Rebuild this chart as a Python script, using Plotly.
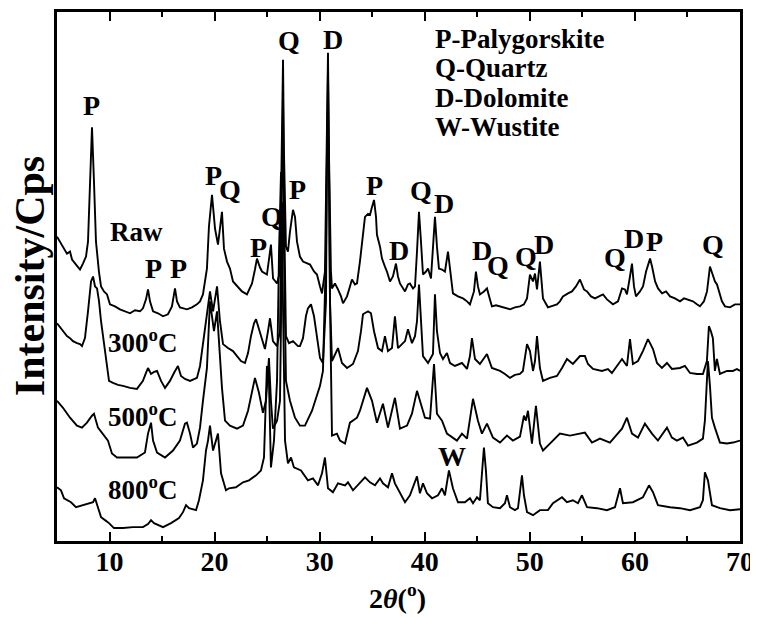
import plotly.graph_objects as go

# ---------------- data (2theta in degrees, intensity in arbitrary counts, stacked) --------------
raw_x = [5.00, 5.29, 5.57, 5.95, 6.24, 6.43, 6.81, 7.19, 7.47, 7.76, 7.95, 8.14, 8.33, 8.52, 8.71, 8.99,
         9.19, 9.47, 9.76, 10.04, 10.52, 10.99, 11.47, 11.95, 12.42, 12.90, 13.18, 13.47, 13.66, 13.85,
         14.14, 14.61, 15.09, 15.56, 15.94, 16.23, 16.42, 16.70, 17.37, 17.85, 18.32, 18.61, 18.89,
         19.27, 19.46, 19.75, 20.04, 20.32, 20.70, 20.89, 21.18, 21.46, 21.75, 22.22, 22.60, 23.08,
         23.56, 23.84, 24.03, 24.32, 24.51, 24.98, 25.17, 25.36, 25.56, 25.94, 26.22, 26.41, 26.51,
         26.60, 26.79, 26.98, 27.17, 27.46, 27.65, 27.84, 28.12, 28.41, 28.79, 29.08, 29.46, 29.74,
         30.03, 30.22, 30.50, 30.69, 30.79, 30.88, 31.07, 31.17, 31.45, 31.74, 32.03, 32.22, 32.60,
         32.88, 33.07, 33.36, 33.55, 33.83, 34.02, 34.31, 34.60, 34.79, 34.98, 35.17, 35.36, 35.45,
         35.74, 35.93, 36.21, 36.40, 36.69, 36.97, 37.26, 37.45, 37.64, 38.12, 38.40, 38.59, 38.88,
         39.07, 39.26, 39.45, 39.64, 39.83, 40.12, 40.31, 40.59, 40.78, 40.97, 41.16, 41.35, 41.64,
         41.92, 42.21, 42.40, 42.68, 43.16, 43.64, 44.02, 44.30, 44.68, 44.87, 45.06, 45.25, 45.63,
         45.92, 46.20, 46.39, 46.78, 47.16, 47.63, 48.11, 48.58, 49.06, 49.44, 49.73, 50.01, 50.30,
         50.49, 50.68, 50.96, 51.25, 51.72, 52.10, 52.58, 52.86, 53.15, 53.63, 54.01, 54.39, 54.77,
         55.15, 55.44, 55.82, 56.20, 56.58, 56.96, 57.34, 57.91, 58.39, 58.77, 59.05, 59.24, 59.53,
         59.72, 59.91, 60.10, 60.48, 60.77, 61.06, 61.25, 61.44, 61.63, 61.92, 62.20, 62.58, 62.96,
         63.34, 63.81, 64.29, 64.67, 65.05, 65.52, 65.90, 66.19, 66.57, 66.86, 67.14, 67.43, 67.62,
         67.81, 68.00, 68.28, 68.57, 69.05, 69.52, 70.00]
raw_y = [306, 301, 296, 289, 291, 283, 278, 273, 279, 286, 301, 351, 416, 361, 301, 271,
         256, 251, 248, 238, 236, 233, 231, 229, 232, 231, 234, 243, 253, 241,
         231, 229, 226, 228, 236, 254, 241, 235, 233, 235, 238, 241, 248,
         274, 316, 348, 314, 298, 331, 294, 281, 274, 261, 256, 251, 248,
         259, 273, 284, 275, 271, 268, 286, 298, 264, 259, 271, 391, 484,
         391, 296, 291, 311, 333, 326, 301, 286, 281, 279, 278, 271, 268,
         256, 249, 271, 391, 491, 391, 271, 254, 259, 253, 246, 239, 246,
         256, 263, 258, 259, 281, 301, 326, 329, 328, 336, 343, 326, 308,
         296, 284, 276, 271, 261, 266, 279, 266, 259, 251, 258, 259, 254,
         256, 291, 331, 301, 268, 271, 274, 264, 291, 326, 296, 274, 273,
         271, 291, 276, 249, 246, 244, 241, 238, 251, 271, 256, 248, 251,
         254, 243, 236, 237, 236, 234, 233, 235, 236, 238, 244, 268, 261,
         269, 253, 281, 244, 235, 236, 238, 241, 246, 249, 251, 256, 263,
         253, 251, 246, 244, 246, 248, 243, 238, 241, 254, 253, 248, 266,
         279, 256, 246, 251, 256, 271, 279, 284, 276, 261, 254, 249, 251,
         246, 244, 241, 244, 243, 241, 238, 236, 241, 251, 276, 266, 261,
         258, 251, 241, 236, 235, 238, 238]

t300_x = [5.00, 5.29, 5.57, 5.95, 6.24, 6.52, 6.90, 7.19, 7.38, 7.66, 7.95, 8.24, 8.43, 8.62, 8.81,
          9.00, 9.19, 9.38, 9.57, 9.76, 9.95, 10.33, 10.80, 11.28, 11.95, 12.61, 13.18, 13.47, 13.66,
          13.95, 14.23, 14.52, 14.90, 15.28, 15.75, 16.13, 16.51, 16.80, 17.18, 17.66, 18.32, 18.61,
          18.80, 19.08, 19.37, 19.56, 19.85, 20.23, 20.51, 20.80, 21.27, 21.75, 22.13, 22.51, 22.89,
          23.18, 23.46, 23.75, 23.94, 24.22, 24.51, 24.79, 25.08, 25.27, 25.55, 25.94, 26.22, 26.41,
          26.51, 26.60, 26.79, 27.08, 27.46, 27.93, 28.12, 28.41, 28.69, 28.88, 29.17, 29.46, 29.74,
          30.03, 30.31, 30.60, 30.69, 30.79, 30.88, 30.98, 31.17, 31.45, 31.74, 32.12, 32.60, 33.17,
          33.64, 33.93, 34.12, 34.60, 34.88, 35.17, 35.55, 35.93, 36.21, 36.50, 36.88, 37.16, 37.45,
          37.83, 38.12, 38.40, 38.78, 39.07, 39.26, 39.45, 39.64, 39.83, 40.31, 40.78, 40.97, 41.16,
          41.45, 41.73, 42.11, 42.40, 42.87, 43.54, 44.02, 44.30, 44.49, 44.78, 45.25, 45.92, 46.39,
          47.16, 47.63, 48.11, 48.58, 49.06, 49.34, 49.53, 49.73, 50.01, 50.30, 50.49, 50.68, 50.96,
          51.25, 51.91, 52.58, 53.06, 53.53, 54.10, 54.48, 54.77, 55.24, 55.53, 56.01, 56.86, 57.43,
          57.81, 58.29, 58.77, 59.24, 59.53, 59.81, 60.29, 60.76, 61.24, 61.72, 62.10, 62.57, 63.05,
          63.52, 64.28, 64.76, 65.24, 65.90, 66.47, 66.85, 67.04, 67.23, 67.42, 67.61, 67.80, 68.09,
          68.76, 69.33, 69.71, 70.00]
t300_y = [219, 215, 211, 206, 204, 201, 199, 198, 196, 204, 231, 261, 266, 256, 254,
          241, 221, 206, 196, 176, 161, 159, 157, 156, 154, 153, 161, 169, 174,
          168, 170, 171, 161, 154, 161, 169, 176, 166, 163, 161, 164, 176,
          191, 211, 236, 251, 231, 256, 221, 198, 194, 191, 186, 181, 179,
          189, 206, 219, 223, 213, 204, 193, 211, 224, 201, 196, 211, 341,
          441, 341, 206, 199, 201, 196, 196, 204, 226, 234, 238, 226, 206,
          184, 179, 241, 391, 471, 391, 241, 181, 188, 194, 179, 174, 178,
          191, 211, 228, 231, 229, 211, 194, 191, 206, 191, 194, 226, 194,
          198, 201, 213, 199, 206, 221, 258, 221, 186, 179, 188, 248, 211,
          189, 183, 189, 179, 176, 179, 173, 186, 204, 183, 178, 188, 174,
          171, 168, 164, 167, 168, 171, 183, 198, 191, 171, 181, 206, 174,
          161, 164, 166, 174, 183, 178, 183, 186, 186, 178, 173, 171, 173,
          169, 176, 183, 176, 203, 178, 181, 191, 203, 193, 179, 174, 179,
          173, 174, 176, 169, 168, 168, 181, 216, 211, 204, 171, 183, 168,
          171, 171, 173, 171]

t500_x = [5.00, 5.57, 6.24, 6.90, 7.38, 7.85, 8.33, 8.52, 8.90, 9.38, 9.85, 10.23, 10.71, 11.66,
          12.61, 13.37, 13.66, 13.95, 14.14, 14.52, 15.28, 16.04, 16.70, 17.18, 17.37, 17.66, 17.94,
          18.32, 18.61, 18.89, 19.27, 19.56, 19.94, 20.23, 20.51, 20.70, 20.99, 21.46, 22.13, 22.70,
          23.18, 23.56, 23.84, 24.22, 24.60, 24.89, 25.17, 25.36, 25.55, 25.94, 26.22, 26.41, 26.51,
          26.60, 26.79, 27.17, 27.65, 28.12, 28.60, 29.27, 29.74, 30.03, 30.31, 30.60, 30.69, 30.79,
          30.88, 30.98, 31.17, 31.64, 31.93, 32.41, 32.88, 33.55, 33.83, 34.12, 34.50, 34.98, 35.45,
          36.02, 36.50, 37.16, 37.64, 38.31, 38.78, 39.26, 39.54, 40.02, 40.50, 40.88, 41.16, 41.64,
          42.11, 42.59, 43.06, 43.54, 44.02, 44.59, 45.06, 45.44, 45.92, 46.49, 47.16, 47.82, 48.39,
          49.06, 49.44, 49.63, 49.82, 50.20, 50.58, 50.96, 51.25, 51.91, 52.86, 53.82, 54.77, 55.24,
          55.91, 56.67, 57.62, 58.39, 58.77, 59.24, 59.72, 60.29, 60.95, 61.62, 62.19, 63.05, 63.52,
          64.00, 64.57, 65.05, 65.90, 66.47, 66.66, 66.85, 66.95, 67.14, 67.33, 67.61, 68.09, 68.76,
          69.33, 70.00]
t500_y = [141, 134, 124, 116, 114, 119, 126, 128, 114, 108, 101, 88, 84, 84,
          84, 89, 108, 119, 101, 89, 84, 91, 101, 118, 119, 108, 94,
          98, 114, 141, 174, 241, 211, 231, 181, 154, 121, 116, 113, 116,
          131, 151, 164, 149, 129, 141, 184, 141, 113, 121, 141, 291, 341,
          291, 161, 141, 124, 116, 116, 131, 146, 156, 171, 291, 381, 411,
          381, 241, 106, 108, 101, 98, 119, 124, 131, 141, 154, 141, 119,
          138, 114, 144, 113, 116, 128, 151, 141, 124, 123, 178, 128, 121,
          108, 104, 101, 108, 103, 143, 121, 108, 118, 104, 99, 106, 101,
          105, 126, 121, 131, 98, 136, 98, 91, 98, 108, 106, 108, 109,
          99, 103, 99, 108, 113, 124, 108, 104, 118, 108, 101, 114, 104,
          101, 104, 96, 99, 103, 121, 161, 181, 156, 124, 114, 99, 98,
          99, 101]

t800_x = [5.00, 5.38, 5.67, 6.05, 6.33, 6.81, 7.47, 7.95, 8.43, 8.62, 8.90, 9.19, 9.57, 9.95, 10.42,
          11.28, 12.23, 13.18, 13.66, 13.95, 14.23, 15.09, 15.85, 16.61, 16.99, 17.28, 17.56, 18.23,
          18.51, 18.89, 19.18, 19.37, 19.56, 19.85, 20.32, 20.61, 21.08, 21.37, 22.03, 22.70, 23.27,
          23.94, 24.41, 24.70, 24.98, 25.17, 25.36, 25.65, 25.94, 26.13, 26.32, 26.51, 26.70, 26.98,
          27.27, 27.55, 28.22, 28.88, 29.36, 29.84, 30.22, 30.50, 30.79, 31.26, 31.74, 32.41, 32.69,
          33.17, 33.83, 34.31, 34.79, 35.26, 35.74, 36.02, 36.50, 36.88, 37.16, 37.64, 38.12, 38.59,
          39.26, 39.54, 39.83, 40.21, 40.69, 41.26, 41.64, 41.92, 42.30, 42.68, 43.16, 43.82, 44.30,
          44.59, 44.97, 45.25, 45.44, 45.63, 45.82, 46.01, 46.49, 47.16, 47.63, 47.82, 48.11, 48.58,
          48.87, 49.06, 49.25, 49.44, 49.73, 50.30, 50.96, 51.72, 52.20, 53.06, 53.53, 54.10, 54.58,
          54.96, 55.44, 56.39, 57.34, 58.10, 58.58, 58.86, 59.81, 60.76, 61.34, 61.72, 62.19, 63.34,
          64.28, 65.24, 66.19, 66.47, 66.66, 66.95, 67.33, 68.09, 69.05, 70.00]
t800_y = [54, 51, 43, 41, 39, 34, 36, 38, 39, 43, 34, 24, 21, 18, 13,
          13, 14, 14, 17, 21, 18, 14, 18, 23, 29, 36, 33, 31,
          41, 61, 91, 101, 116, 91, 108, 68, 51, 53, 54, 59, 61,
          66, 71, 84, 176, 161, 74, 101, 161, 291, 371, 241, 101, 78,
          84, 74, 71, 61, 63, 56, 68, 84, 53, 49, 58, 56, 59,
          51, 59, 64, 59, 56, 63, 58, 54, 68, 58, 48, 39, 46,
          65, 48, 58, 48, 43, 46, 53, 46, 71, 53, 39, 39, 43,
          38, 44, 41, 71, 94, 71, 38, 34, 33, 38, 46, 34, 31,
          33, 51, 66, 46, 29, 26, 31, 31, 38, 44, 39, 41, 38,
          46, 34, 33, 31, 34, 53, 38, 39, 44, 56, 49, 36, 34,
          33, 31, 34, 41, 69, 61, 36, 33, 31, 32]

series = [("Raw", raw_x, raw_y), ("300°C", t300_x, t300_y),
          ("500°C", t500_x, t500_y), ("800°C", t800_x, t800_y)]

# peak labels: (text, 2theta, intensity)
peak_labels = ["P", "P", "P", "P", "Q", "P", "Q", "P", "Q", "D", "P", "D", "Q", "D",
               "D", "Q", "Q", "D", "Q", "D", "P", "Q", "W"]
peak_x = [8.33, 14.14, 16.61, 19.85, 21.46, 24.22, 25.46, 27.93, 27.08, 31.26, 35.17, 37.54,
          39.64, 41.83, 45.44, 46.95, 49.63, 51.34, 58.10, 59.91, 61.91, 67.42, 42.59]
peak_y = [438, 274, 274, 368, 354, 295, 326, 353, 503, 504, 358, 292,
          352, 339, 292, 277, 286, 298, 285, 304, 301, 298, 85]

sample_labels = ["Raw", "300<sup>o</sup>C", "500<sup>o</sup>C", "800<sup>o</sup>C"]
sample_x = [12.52, 13.18, 13.18, 13.18]
sample_y = [311, 201, 127, 53]

legend_lines = ["P-Palygorskite", "Q-Quartz", "D-Dolomite", "W-Wustite"]
legend_x = 40.78
legend_y = [505, 475.5, 446, 416.5]

x_ticks = [10, 20, 30, 40, 50, 60, 70]

FONT = "Liberation Serif, Times New Roman, serif"

fig = go.Figure()
for name, xs, ys in series:
    fig.add_trace(go.Scatter(x=xs, y=ys, mode="lines", name=name,
                             line=dict(color="black", width=1.9), showlegend=False))

annotations = []
for t, x, y in zip(peak_labels, peak_x, peak_y):
    annotations.append(dict(x=x, y=y, xref="x", yref="y", text=f"<b>{t}</b>", showarrow=False,
                            font=dict(family=FONT, size=28, color="black"),
                            xanchor="center", yanchor="middle"))
for t, x, y in zip(sample_labels, sample_x, sample_y):
    annotations.append(dict(x=x, y=y, xref="x", yref="y", text=f"<b>{t}</b>", showarrow=False,
                            font=dict(family=FONT, size=27, color="black"),
                            xanchor="center", yanchor="middle"))
for t, y in zip(legend_lines, legend_y):
    annotations.append(dict(x=legend_x, y=y, xref="x", yref="y", text=f"<b>{t}</b>", showarrow=False,
                            font=dict(family=FONT, size=27, color="black"),
                            xanchor="left", yanchor="middle"))
# axis titles
annotations.append(dict(x=0.499, y=-0.105, xref="paper", yref="paper",
                        text="<b>2<i>θ</i>(<sup>o</sup>)</b>", showarrow=False,
                        font=dict(family=FONT, size=28, color="black"),
                        xanchor="center", yanchor="middle"))
annotations.append(dict(x=-0.04, y=0.5, xref="paper", yref="paper",
                        text="<b>Intensity/Cps</b>", showarrow=False, textangle=-90,
                        font=dict(family=FONT, size=42, color="black"),
                        xanchor="center", yanchor="middle"))

# the page body has an 8 px margin, so the figure is sized to fill the remaining window
fig.update_layout(
    width=750, height=609,
    margin=dict(l=49, r=18, t=1, b=76),
    paper_bgcolor="white", plot_bgcolor="white",
    font=dict(family=FONT, color="black"),
    annotations=annotations,
    showlegend=False,
)
fig.update_xaxes(
    range=[5, 70], tickvals=x_ticks, ticktext=[f"<b>{v}</b>" for v in x_ticks],
    ticks="inside", ticklen=9, tickwidth=2, tickcolor="black",
    minor=dict(dtick=5, tick0=5, ticks="inside", ticklen=5, tickwidth=2, tickcolor="black"),
    showline=True, linewidth=2.5, linecolor="black", mirror="ticks",
    showgrid=False, zeroline=False, ticklabelstandoff=-6,
    tickfont=dict(family=FONT, size=28, color="black"),
)
fig.update_yaxes(
    range=[0, 532], showticklabels=False, ticks="",
    showline=True, linewidth=2.5, linecolor="black", mirror=True,
    showgrid=False, zeroline=False,
)

fig.write_html("out.html")
